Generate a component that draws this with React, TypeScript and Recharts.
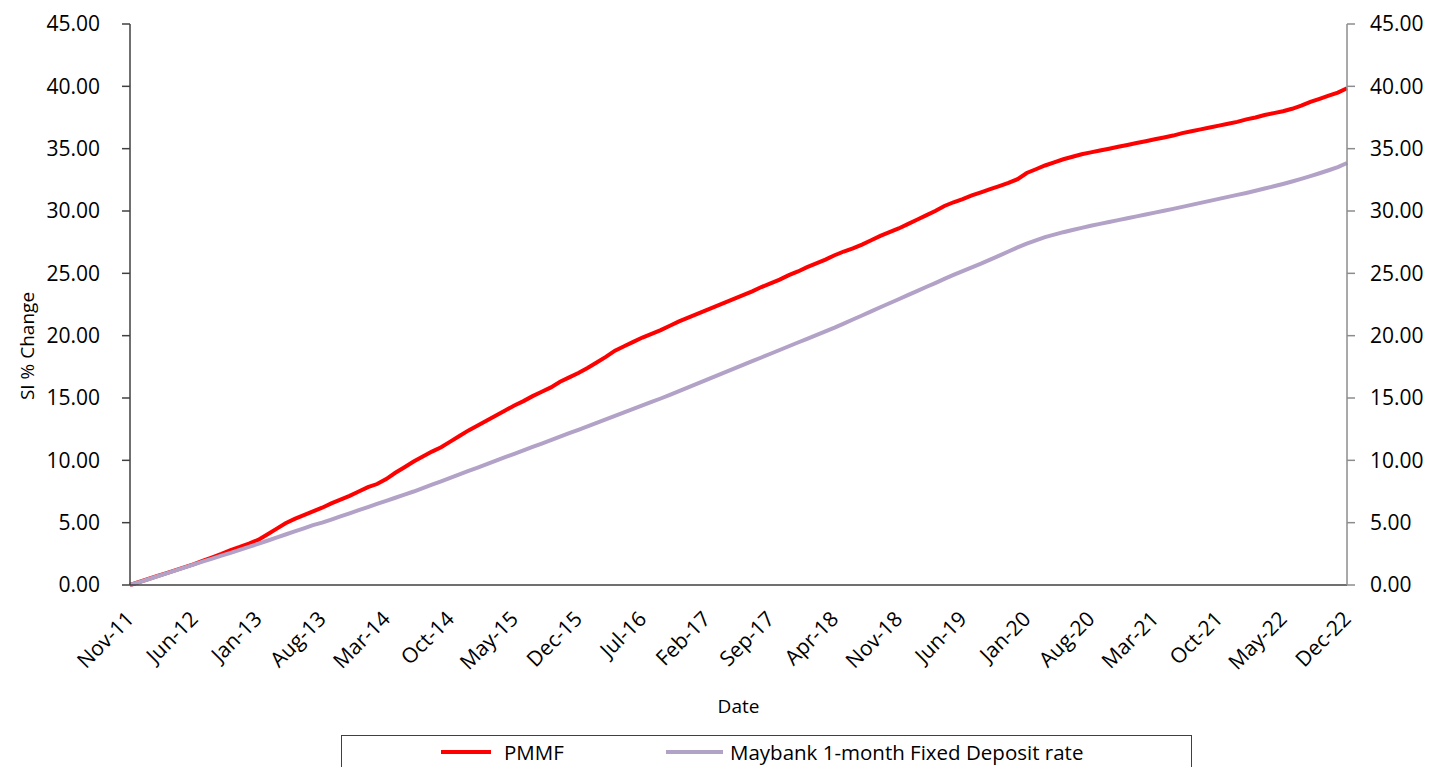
import React from 'react';
import { LineChart, Line, XAxis, YAxis, Legend, Label } from 'recharts';

// monthly series, Nov-11 .. Dec-22
const MONTHS = ['Jan', 'Feb', 'Mar', 'Apr', 'May', 'Jun', 'Jul', 'Aug', 'Sep', 'Oct', 'Nov', 'Dec'];
const START_YEAR = 2011;
const START_MONTH = 10; // Nov

const pmmf = [
  0.0, 0.24, 0.48, 0.72, 0.96, 1.2, 1.44, 1.68, 1.95, 2.22, 2.5, 2.8,
  3.05, 3.32, 3.62, 4.05, 4.5, 4.95, 5.3, 5.6, 5.9, 6.2, 6.55, 6.85,
  7.15, 7.5, 7.85, 8.1, 8.5, 9.0, 9.45, 9.9, 10.3, 10.7, 11.05, 11.5,
  11.95, 12.4, 12.8, 13.2, 13.6, 14.0, 14.4, 14.75, 15.15, 15.5, 15.85, 16.3,
  16.65, 17.0, 17.4, 17.85, 18.3, 18.8, 19.15, 19.5, 19.85, 20.15, 20.45, 20.8,
  21.15, 21.45, 21.75, 22.05, 22.35, 22.65, 22.95, 23.25, 23.55, 23.9, 24.2, 24.5,
  24.85, 25.15, 25.5, 25.8, 26.1, 26.45, 26.75, 27.0, 27.3, 27.65, 28.0, 28.3,
  28.6, 28.95, 29.3, 29.65, 30.0, 30.4, 30.7, 30.95, 31.25, 31.5, 31.75, 32.0,
  32.25, 32.55, 33.05, 33.35, 33.65, 33.9, 34.15, 34.35, 34.55, 34.7, 34.85, 35.0,
  35.15, 35.3, 35.45, 35.6, 35.75, 35.9, 36.05, 36.25, 36.4, 36.55, 36.7, 36.85,
  37.0, 37.15, 37.35, 37.5, 37.7, 37.85, 38.0, 38.2, 38.45, 38.75, 39.0, 39.25,
  39.5, 39.85,
];

const maybank = [
  0.0, 0.23, 0.46, 0.7, 0.94, 1.18, 1.42, 1.66, 1.9, 2.12, 2.35, 2.58,
  2.82, 3.06, 3.3, 3.55, 3.8, 4.05, 4.3, 4.55, 4.8, 5.0, 5.25, 5.5,
  5.75, 6.0, 6.25, 6.5, 6.75, 7.0, 7.25, 7.5, 7.78, 8.05, 8.32, 8.6,
  8.88, 9.15, 9.42, 9.7, 9.98, 10.25, 10.52, 10.8, 11.08, 11.35, 11.62, 11.9,
  12.18, 12.45, 12.72, 13.0, 13.28, 13.56, 13.85, 14.12, 14.4, 14.68, 14.96, 15.25,
  15.55, 15.85, 16.15, 16.45, 16.75, 17.05, 17.35, 17.65, 17.95, 18.25, 18.55, 18.85,
  19.15, 19.45, 19.75, 20.05, 20.35, 20.65, 20.97, 21.3, 21.62, 21.95, 22.28, 22.6,
  22.92, 23.25, 23.57, 23.9, 24.22, 24.55, 24.87, 25.18, 25.48, 25.78, 26.1, 26.42,
  26.75, 27.08, 27.38, 27.65, 27.9, 28.1, 28.3, 28.48, 28.65, 28.82, 28.97, 29.12,
  29.27, 29.42, 29.57, 29.72, 29.87, 30.02, 30.17, 30.33, 30.49, 30.65, 30.81, 30.97,
  31.13, 31.29, 31.45, 31.62, 31.8, 31.98, 32.17, 32.37, 32.58, 32.8, 33.03, 33.27,
  33.52, 33.85,
];

const yTicks = [0, 5, 10, 15, 20, 25, 30, 35, 40, 45];

const SERIES = [
  { key: 'pmmf', name: 'PMMF', color: '#ff0000' },
  { key: 'maybank', name: 'Maybank 1-month Fixed Deposit rate', color: '#b3a2c7' },
];

const dates = pmmf.map((_, i) => {
  const m = START_MONTH + i;
  const yy = (START_YEAR + Math.floor(m / 12)) % 100;
  return `${MONTHS[m % 12]}-${String(yy).padStart(2, '0')}`;
});

const data = dates.map((date, i) => ({ date, pmmf: pmmf[i], maybank: maybank[i] }));

const FONT = '"Open Sans", sans-serif';

const DateTick = ({ x, y, payload }: any) => (
  <g transform={`translate(${x},${y + 30})`}>
    <text
      x={0}
      y={0}
      dy="0.35em"
      textAnchor="end"
      transform="rotate(-45)"
      fontSize={21}
      fontFamily={FONT}
      fill="#000"
    >
      {payload.value}
    </text>
  </g>
);

// fixed order like the original, not whatever order recharts hands back
const renderLegend = () => (
  <div
    style={{
      border: '1px solid #404040',
      height: 44,
      boxSizing: 'border-box',
      display: 'flex',
      alignItems: 'flex-start',
      paddingLeft: 99,
      paddingTop: 2,
      fontFamily: FONT,
      fontSize: 20.5,
      color: '#000',
      whiteSpace: 'nowrap',
    }}
  >
    {SERIES.map((s, idx) => (
      <div
        key={s.key}
        style={{ display: 'flex', alignItems: 'center', width: idx === 0 ? 225 : 'auto' }}
      >
        <span
          style={{
            display: 'inline-block',
            width: idx === 0 ? 50 : 57,
            height: 4,
            background: s.color,
            marginRight: idx === 0 ? 13 : 7,
          }}
        />
        <span>{s.name}</span>
      </div>
    ))}
  </div>
);

export default function App() {
  return (
    <div style={{ position: 'absolute', left: 0, top: 0, background: '#fff' }}>
      <LineChart
        width={1431}
        height={767}
        data={data}
        margin={{ top: 24, right: 0, bottom: 0, left: 0 }}
        style={{ fontFamily: FONT }}
      >
        <XAxis
          dataKey="date"
          scale="point"
          interval={6}
          height={182}
          tickLine={false}
          tickSize={0}
          tickMargin={0}
          tick={<DateTick />}
          axisLine={{ stroke: '#404040', strokeWidth: 1.5 }}
        >
          <Label
            value="Date"
            position="insideBottom"
            offset={54}
            style={{ fontSize: 19, fontFamily: FONT, fill: '#000' }}
          />
        </XAxis>
        <YAxis
          yAxisId="left"
          domain={[0, 45]}
          ticks={yTicks}
          width={130}
          tickSize={8}
          tickMargin={22}
          tickFormatter={(v: number) => v.toFixed(2)}
          tick={{ fontSize: 21, fill: '#000', fontFamily: FONT }}
          axisLine={{ stroke: '#404040', strokeWidth: 1.5 }}
          tickLine={{ stroke: '#404040', strokeWidth: 1.5 }}
        >
          <Label
            content={() => (
              <text
                x={27}
                y={346}
                transform="rotate(-90 27 346)"
                textAnchor="middle"
                dominantBaseline="central"
                fontSize={19}
                fontFamily={FONT}
                fill="#000"
              >
                SI % Change
              </text>
            )}
          />
        </YAxis>
        <YAxis
          yAxisId="right"
          orientation="right"
          domain={[0, 45]}
          ticks={yTicks}
          width={84}
          tickSize={8}
          tickMargin={15}
          tickFormatter={(v: number) => v.toFixed(2)}
          tick={{ fontSize: 21, fill: '#000', fontFamily: FONT, textAnchor: 'start' }}
          axisLine={{ stroke: '#8c8c8c', strokeWidth: 1.5 }}
          tickLine={{ stroke: '#8c8c8c', strokeWidth: 1.5 }}
        />
        <Line
          yAxisId="left"
          type="linear"
          dataKey="pmmf"
          name={SERIES[0].name}
          stroke={SERIES[0].color}
          strokeWidth={4}
          dot={false}
          isAnimationActive={false}
        />
        <Line
          yAxisId="right"
          type="linear"
          dataKey="maybank"
          name={SERIES[1].name}
          stroke={SERIES[1].color}
          strokeWidth={4}
          dot={false}
          isAnimationActive={false}
        />
        <Legend
          layout="vertical"
          align="center"
          verticalAlign="middle"
          content={renderLegend}
          wrapperStyle={{ left: 341, top: 735, width: 851, height: 44 }}
        />
      </LineChart>
    </div>
  );
}
